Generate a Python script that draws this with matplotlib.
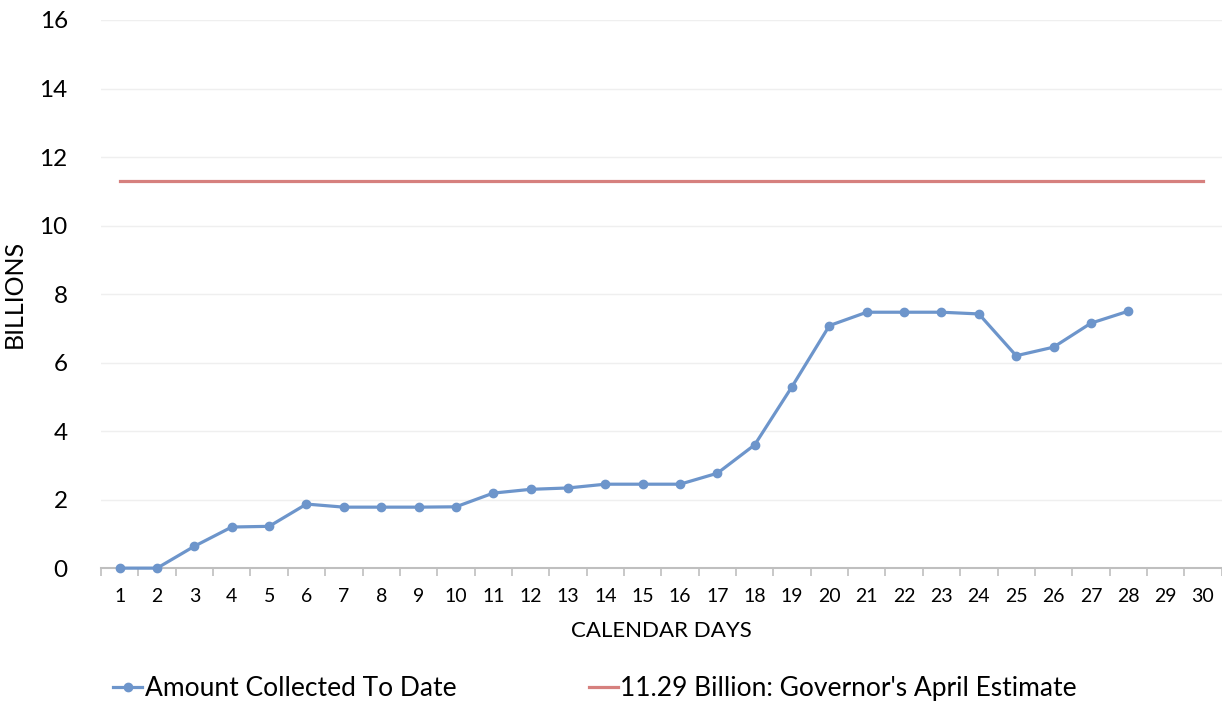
import matplotlib
matplotlib.use("Agg")
import matplotlib.pyplot as plt
from matplotlib.ticker import FixedLocator, NullFormatter

days = list(range(1, 31))
collected_days = list(range(1, 29))
collected = [0.0, 0.0, 0.64, 1.2, 1.22, 1.87, 1.78, 1.78, 1.78, 1.79,
             2.19, 2.3, 2.34, 2.45, 2.45, 2.45, 2.77, 3.6, 5.3, 7.08,
             7.47, 7.47, 7.47, 7.42, 6.2, 6.45, 7.15, 7.5]
estimate = [11.29] * 30
y_ticks = [0, 2, 4, 6, 8, 10, 12, 14, 16]
series_labels = ["Amount Collected To Date", "11.29 Billion: Governor's April Estimate"]

plt.rcParams['font.family'] = ['Lato', 'DejaVu Sans']

fig = plt.figure(figsize=(12.22, 7.04), dpi=100)
ax = fig.add_axes([0.0827, 0.193, 0.917, 0.7786])

blue = '#6d95cb'
red = '#d6807e'
l1, = ax.plot(collected_days, collected, color=blue, lw=2.3, marker='o', ms=6,
              label=series_labels[0], clip_on=False, zorder=3)
l2, = ax.plot(days, estimate, color=red, lw=2.3, label=series_labels[1])

ax.set_xlim(0.5, 30.5)
ax.set_ylim(0, 16)
ax.set_yticks(y_ticks)
ax.set_yticklabels([str(v) for v in y_ticks], fontsize=17.5)
ax.set_xticks(days)
ax.set_xticklabels([str(d) for d in days], fontsize=14)
ax.tick_params(axis='x', length=0, pad=14)
ax.tick_params(axis='y', length=0, pad=24)
ax.xaxis.set_minor_locator(FixedLocator([d + 0.5 for d in range(0, 31)]))
ax.xaxis.set_minor_formatter(NullFormatter())
ax.tick_params(axis='x', which='minor', length=6, width=1.2, color='#bfbfbf', direction='out')

ax.grid(axis='y', color='#efefef', lw=1)
ax.set_axisbelow(True)
for s in ['top', 'right', 'left']:
    ax.spines[s].set_visible(False)
ax.spines['bottom'].set_color('#bfbfbf')
ax.spines['bottom'].set_linewidth(1.5)

ax.set_xlabel('CALENDAR DAYS', fontsize=16, labelpad=12)
ax.set_ylabel('BILLIONS', fontsize=18)
ax.yaxis.set_label_coords(-0.067, 0.5)

fig.legend(handles=[l1, l2], loc='center', bbox_to_anchor=(0.487, 0.022), ncol=2,
           frameon=False, fontsize=19, handlelength=1.1, handletextpad=0.1,
           columnspacing=5.0)

fig.savefig('out.png', dpi=100, facecolor='white')
